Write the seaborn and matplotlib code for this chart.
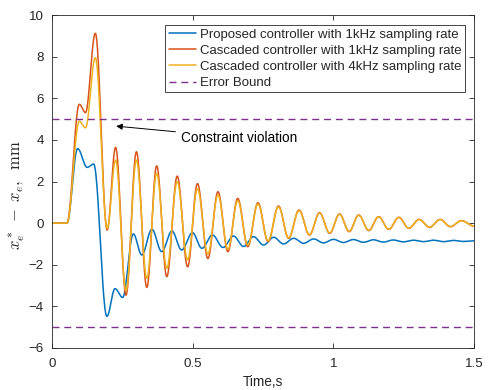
import numpy as np
import pandas as pd
import seaborn as sns
import matplotlib
matplotlib.use("Agg")
import matplotlib.pyplot as plt

# Extrema (time in s, error in mm)
t_prop = [0.0, 0.053, 0.091, 0.125, 0.148, 0.195, 0.224, 0.251, 0.289, 0.319,
          0.355, 0.390, 0.426, 0.461, 0.499, 0.533, 0.570, 0.608, 0.645, 0.681,
          0.716, 0.752, 0.788, 0.823, 0.859, 0.894, 0.930, 0.965, 1.000, 1.036,
          1.071, 1.107, 1.142, 1.178, 1.213, 1.249, 1.284, 1.320, 1.355, 1.391,
          1.426, 1.462, 1.500]
y_prop = [0.0, 0.0, 3.58, 2.68, 2.84, -4.48, -3.15, -3.57, -0.52, -1.53,
          -0.30, -1.37, -0.38, -1.29, -0.46, -1.21, -0.57, -1.17, -0.62, -1.12,
          -0.65, -1.05, -0.68, -1.00, -0.73, -0.97, -0.76, -0.95, -0.78, -0.93,
          -0.79, -0.92, -0.80, -0.91, -0.81, -0.90, -0.82, -0.89, -0.82, -0.89,
          -0.83, -0.88, -0.85]

t_casc = [0.0, 0.053, 0.097, 0.119, 0.154, 0.196, 0.226, 0.263, 0.300, 0.337,
          0.372, 0.408, 0.445, 0.482, 0.517, 0.554, 0.590, 0.625, 0.660, 0.696,
          0.732, 0.768, 0.805, 0.841, 0.878, 0.915, 0.951, 0.987, 1.022, 1.056,
          1.090, 1.126, 1.161, 1.197, 1.233, 1.268, 1.305, 1.342, 1.380, 1.416,
          1.455, 1.500]
y_casc1k = [0.0, 0.0, 5.71, 5.31, 9.12, -0.33, 3.64, -3.46, 3.43, -3.09,
            2.75, -2.57, 2.26, -2.10, 1.90, -1.70, 1.51, -1.37, 1.19, -1.13,
            0.98, -0.89, 0.82, -0.73, 0.63, -0.57, 0.50, -0.49, 0.44, -0.41,
            0.39, -0.36, 0.31, -0.30, 0.28, -0.25, 0.18, -0.20, 0.18, -0.17,
            0.12, -0.14]
y_casc4k = [0.0, 0.0, 4.90, 4.58, 7.95, -0.25, 3.03, -3.25, 3.03, -2.65,
            2.39, -2.17, 1.99, -1.77, 1.65, -1.48, 1.35, -1.26, 1.08, -1.05,
            0.92, -0.85, 0.78, -0.70, 0.60, -0.55, 0.48, -0.47, 0.42, -0.39,
            0.37, -0.34, 0.30, -0.29, 0.27, -0.24, 0.17, -0.19, 0.17, -0.16,
            0.11, -0.13]

labels = ["Proposed controller with 1kHz sampling rate",
          "Cascaded controller with 1kHz sampling rate",
          "Cascaded controller with 4kHz sampling rate"]
colors = ["#0072BD", "#D95319", "#EDB120"]
bound = 5


def smooth(ts, ys, n=40):
    # half-cosine blend between consecutive extrema
    tt, yy = [], []
    for i in range(len(ts) - 1):
        s = np.linspace(0, 1, n, endpoint=False)
        tt.append(ts[i] + (ts[i + 1] - ts[i]) * s)
        yy.append(ys[i] + (ys[i + 1] - ys[i]) * (1 - np.cos(np.pi * s)) / 2)
    tt.append([ts[-1]])
    yy.append([ys[-1]])
    return np.concatenate(tt), np.concatenate(yy)


frames = []
for lab, ts, ys in zip(labels, [t_prop, t_casc, t_casc], [y_prop, y_casc1k, y_casc4k]):
    tt, yy = smooth(ts, ys)
    frames.append(pd.DataFrame({"t": tt, "err": yy, "series": lab}))
df = pd.concat(frames, ignore_index=True)

sns.set_theme(style="ticks")
plt.rcParams["font.family"] = ["Liberation Sans", "DejaVu Sans"]
plt.rcParams["mathtext.fontset"] = "cm"
gray = "#262626"

fig = plt.figure(figsize=(4.88, 3.9), dpi=100)
ax = fig.add_axes([0.1066, 0.1077, 0.8647, 0.8538])

sns.lineplot(data=df, x="t", y="err", hue="series", palette=colors,
             hue_order=labels, linewidth=1.1, ax=ax, legend=False, sort=False,
             estimator=None)
ax.axhline(bound, color="#7E2F8E", ls=(0, (5, 3.5)), lw=1.0)
ax.axhline(-bound, color="#7E2F8E", ls=(0, (5, 3.5)), lw=1.0)

handles = [plt.Line2D([], [], color=c, lw=1.1) for c in colors]
handles.append(plt.Line2D([], [], color="#7E2F8E", ls=(0, (5, 3.5)), lw=1.0))
leg = ax.legend(handles, labels + ["Error Bound"], loc="upper right",
                bbox_to_anchor=(0.979, 0.970), borderaxespad=0, fontsize=9.5,
                fancybox=False, framealpha=1, edgecolor=gray, handlelength=2.1,
                labelspacing=0.3, borderpad=0.25, handletextpad=0.3)
leg.get_frame().set_linewidth(0.6)

ax.annotate("Constraint violation", xy=(0.228, 4.66), xytext=(0.46, 4.1),
            fontsize=9.8, color="black", va="center", ha="left",
            arrowprops=dict(arrowstyle="-|>", color="black", lw=0.7,
                            mutation_scale=9, shrinkA=2, shrinkB=0))

ax.set_xlim(0, 1.5)
ax.set_ylim(-6, 10)
ax.set_xticks([0, 0.5, 1, 1.5])
ax.set_xticklabels(["0", "0.5", "1", "1.5"])
ax.set_yticks(np.arange(-6, 11, 2))
ax.tick_params(direction="in", top=True, right=True, length=3.5, width=0.6,
               labelsize=9.6, colors=gray)
ax.tick_params(axis="x", pad=7)
ax.tick_params(axis="y", pad=6)
for sp in ax.spines.values():
    sp.set_color(gray)
    sp.set_linewidth(0.6)
ax.set_xlabel("Time,s", fontsize=9.8, color=gray, labelpad=4)
ax.set_ylabel(r"$x_e^*\;-\;x_e,\;\;\mathrm{mm}$", fontsize=12, color=gray)
ax.yaxis.set_label_coords(-0.056, 0.46)

fig.savefig("out.png", dpi=100)
